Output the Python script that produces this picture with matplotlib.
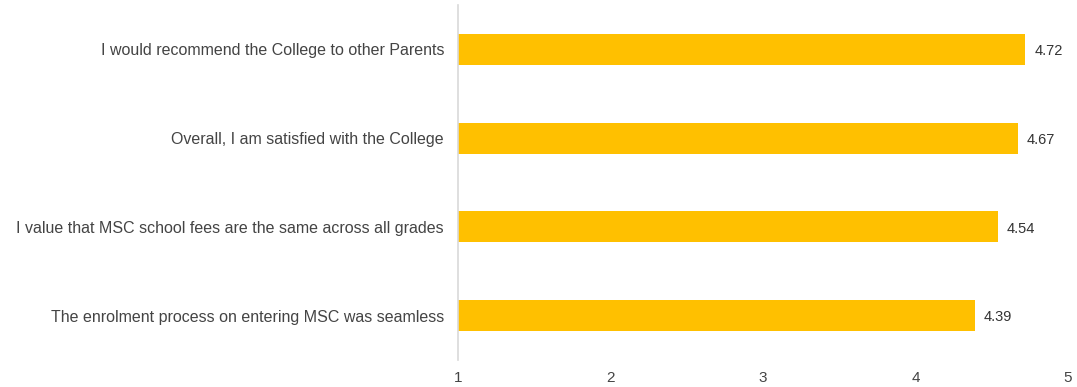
import numpy as np
import matplotlib
matplotlib.use("Agg")
import matplotlib.pyplot as plt

# survey statements and mean scores (top to bottom)
statements = [
    "I would recommend the College to other Parents",
    "Overall, I am satisfied with the College",
    "I value that MSC school fees are the same across all grades",
    "The enrolment process on entering MSC was seamless",
]
scores = [4.72, 4.67, 4.54, 4.39]
xticks = [1, 2, 3, 4, 5]

plt.rcParams['font.family'] = ['Liberation Sans', 'DejaVu Sans']

fig = plt.figure(figsize=(10.77, 3.87), dpi=100)
ax = fig.add_axes([458 / 1077, 1 - 360 / 387, (1068 - 458) / 1077, 355 / 387])

y = np.arange(len(statements))
ax.barh(y, np.array(scores) - 1, left=1, height=0.35, color='#FFC000')

for yi, v in zip(y, scores):
    ax.text(v + 0.06, yi + 0.02, "%.2f" % v, va='center', ha='left',
            fontsize=10.5, color='#333333')

ax.set_xlim(1, 5)
ax.set_ylim(len(statements) - 0.5, -0.5)
ax.set_yticks(y)
ax.set_yticklabels(statements, fontsize=11.5, color='#444444')
ax.set_xticks(xticks)
ax.set_xticklabels([str(t) for t in xticks], fontsize=11, color='#444444')
ax.tick_params(axis='y', length=0, pad=10)
ax.tick_params(axis='x', length=0, pad=8)

for s in ['top', 'right', 'bottom']:
    ax.spines[s].set_visible(False)
ax.spines['left'].set_color('#D9D9D9')
ax.spines['left'].set_linewidth(1.2)

fig.savefig('out.png', dpi=100)
